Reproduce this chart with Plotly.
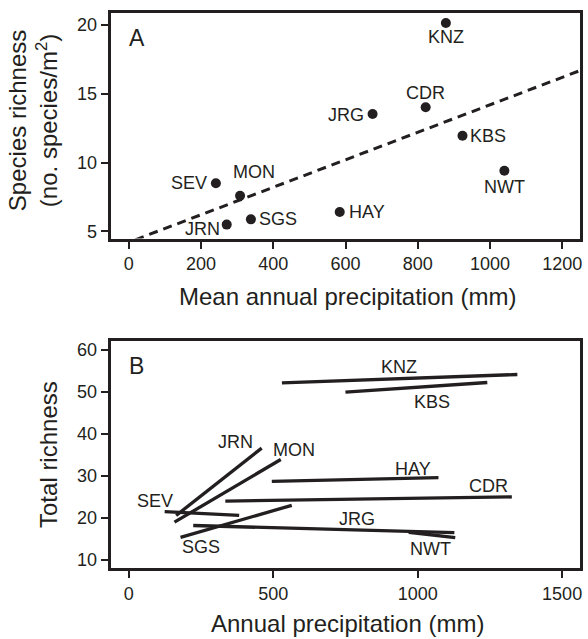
import plotly.graph_objects as go

# ---------------- Data ----------------
# Panel A: site means
sites_a = ["KNZ", "CDR", "JRG", "KBS", "NWT", "SEV", "MON", "HAY", "SGS", "JRN"]
mean_precip = [878, 822, 675, 924, 1040, 241, 308, 584, 338, 271]
species_richness = [20.14, 14.02, 13.53, 11.95, 9.40, 8.49, 7.58, 6.40, 5.87, 5.49]
fit_intercept = 4.21
fit_slope = 0.00998
fit_x = [-60, 1260]

# Panel B: within-site regression segments
sites_b = ["KNZ", "KBS", "JRN", "MON", "HAY", "CDR", "SEV", "SGS", "JRG", "NWT"]
precip_start = [530, 750, 164, 158, 495, 334, 124, 179, 223, 969]
precip_end = [1345, 1241, 460, 526, 1072, 1326, 382, 564, 1127, 1130]
rich_start = [52.1, 49.9, 20.6, 19.0, 28.7, 24.0, 21.5, 15.4, 18.2, 16.6]
rich_end = [54.1, 52.2, 36.6, 33.9, 29.6, 25.0, 20.6, 23.0, 16.5, 15.3]

xticks_a = [0, 200, 400, 600, 800, 1000, 1200]
yticks_a = [5, 10, 15, 20]
xticks_b = [0, 500, 1000, 1500]
yticks_b = [10, 20, 30, 40, 50, 60]

# ---------------- Style / layout ----------------
FONT = "Liberation Sans, Arial, Helvetica, sans-serif"
INK = "#231f20"
W, H = 588, 639
LABEL_SIZE = 18
TITLE_SIZE = 24
TICK_SIZE = 18

# label placement (pixel offsets from the point) for panel A
label_a = {
    "KNZ": dict(xanchor="center", xshift=0, yshift=-14),
    "CDR": dict(xanchor="center", xshift=0, yshift=14),
    "JRG": dict(xanchor="right", xshift=-7, yshift=-1),
    "KBS": dict(xanchor="left", xshift=6, yshift=0),
    "NWT": dict(xanchor="center", xshift=0, yshift=-16),
    "SEV": dict(xanchor="right", xshift=-7, yshift=0),
    "MON": dict(xanchor="center", xshift=14, yshift=24),
    "HAY": dict(xanchor="left", xshift=7, yshift=0),
    "SGS": dict(xanchor="left", xshift=6, yshift=0),
    "JRN": dict(xanchor="right", xshift=-5, yshift=-4),
}
# label placement (data coordinates) for panel B
label_b = {
    "KNZ": (934, 55.8), "KBS": (1049, 47.6), "JRN": (371, 38.0), "MON": (572, 36.1),
    "HAY": (984, 31.6), "CDR": (1245, 27.6), "SEV": (92, 24.1), "JRG": (790, 19.8),
    "SGS": (250, 13.1), "NWT": (1046, 12.5),
}

fig = go.Figure()

# Panel A
fig.add_trace(go.Scatter(
    x=fit_x, y=[fit_intercept + fit_slope * v for v in fit_x],
    mode="lines", line=dict(color=INK, width=3, dash="9px,6px"),
    xaxis="x", yaxis="y", showlegend=False, hoverinfo="skip"))
fig.add_trace(go.Scatter(
    x=mean_precip, y=species_richness, mode="markers",
    marker=dict(color=INK, size=10), xaxis="x", yaxis="y", showlegend=False))

# Panel B
for s, x0, x1, y0, y1 in zip(sites_b, precip_start, precip_end, rich_start, rich_end):
    fig.add_trace(go.Scatter(
        x=[x0, x1], y=[y0, y1], mode="lines", name=s,
        line=dict(color=INK, width=3.3), xaxis="x2", yaxis="y2", showlegend=False))

annotations = []
for s, x, y in zip(sites_a, mean_precip, species_richness):
    p = label_a[s]
    annotations.append(dict(x=x, y=y, xref="x", yref="y", text=s, showarrow=False,
                            xanchor=p["xanchor"], yanchor="middle",
                            xshift=p["xshift"], yshift=p["yshift"],
                            font=dict(size=LABEL_SIZE, color=INK, family=FONT)))
for s in sites_b:
    lx, ly = label_b[s]
    annotations.append(dict(x=lx, y=ly, xref="x2", yref="y2", text=s, showarrow=False,
                            xanchor="center", yanchor="middle",
                            font=dict(size=LABEL_SIZE, color=INK, family=FONT)))

# panel letters
annotations.append(dict(x=-5, y=19.04, xref="x", yref="y", text="A", showarrow=False,
                        xanchor="left", yanchor="middle", font=dict(size=23, color=INK, family=FONT)))
annotations.append(dict(x=-6, y=56.2, xref="x2", yref="y2", text="B", showarrow=False,
                        xanchor="left", yanchor="middle", font=dict(size=23, color=INK, family=FONT)))

# axis titles
annotations += [
    dict(x=349 / W, y=1 - 297 / H, xref="paper", yref="paper",
         text="Mean annual precipitation (mm)", showarrow=False,
         xanchor="center", yanchor="middle", font=dict(size=TITLE_SIZE, color=INK, family=FONT)),
    dict(x=349 / W, y=1 - 626 / H, xref="paper", yref="paper",
         text="Annual precipitation (mm)", showarrow=False,
         xanchor="center", yanchor="middle", font=dict(size=TITLE_SIZE, color=INK, family=FONT)),
    dict(x=33 / W, y=1 - 120 / H, xref="paper", yref="paper",
         text="Species richness<br>(no. species/m<sup>2</sup>)", showarrow=False, textangle=-90,
         xanchor="center", yanchor="middle", font=dict(size=TITLE_SIZE, color=INK, family=FONT)),
    dict(x=48 / W, y=1 - 456 / H, xref="paper", yref="paper",
         text="Total richness", showarrow=False, textangle=-90,
         xanchor="center", yanchor="middle", font=dict(size=TITLE_SIZE, color=INK, family=FONT)),
]

axis_common = dict(showgrid=False, zeroline=False, showline=True, linecolor=INK, linewidth=3,
                   mirror=True, ticks="outside", ticklen=7, tickwidth=1.5, tickcolor=INK,
                   tickfont=dict(size=TICK_SIZE, color=INK, family=FONT))

fig.update_layout(
    width=W, height=H, margin=dict(l=0, r=0, t=0, b=0),
    paper_bgcolor="white", plot_bgcolor="white",
    font=dict(family=FONT, color=INK),
    xaxis=dict(domain=[111 / W, 582 / W], anchor="y", range=[-50.5, 1249.5],
               tickvals=xticks_a, **axis_common),
    yaxis=dict(domain=[1 - 239 / H, 1 - 12 / H], anchor="x", range=[4.48, 20.87],
               tickvals=yticks_a, **axis_common),
    xaxis2=dict(domain=[111 / W, 582 / W], anchor="y2", range=[-63, 1562],
                tickvals=xticks_b, **axis_common),
    yaxis2=dict(domain=[1 - 571 / H, 1 - 342 / H], anchor="x2", range=[8.0, 62.1],
                tickvals=yticks_b, **axis_common),
    annotations=annotations,
)

fig.write_html(
    "out.html",
    config={"displayModeBar": False},
    post_script="document.body.style.margin='0';document.body.style.padding='0';"
                "document.body.style.overflow='hidden';",
)
